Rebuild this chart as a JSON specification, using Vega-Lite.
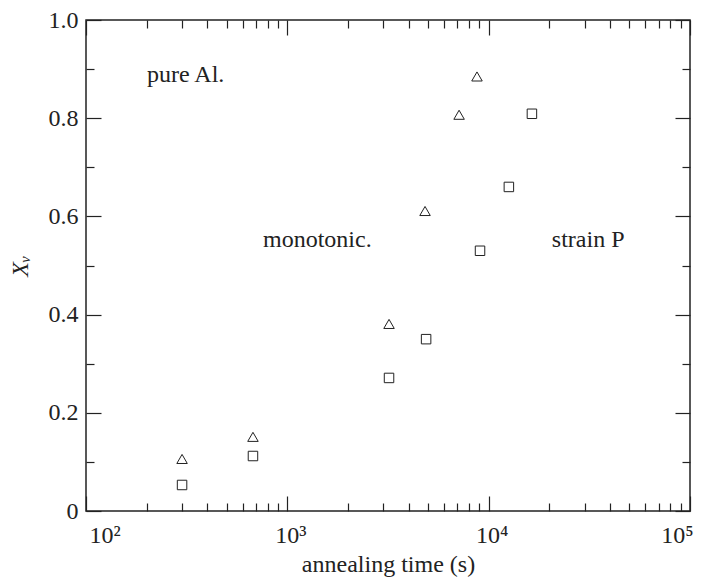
{
  "$schema": "https://vega.github.io/schema/vega-lite/v6.json",
  "width": 604,
  "height": 491,
  "autosize": {"type": "none"},
  "padding": {"left": 86, "top": 20, "right": 17, "bottom": 66},
  "background": "white",
  "config": {
    "view": {"stroke": "#222", "strokeWidth": 1.5},
    "font": "Liberation Serif",
    "axis": {
      "grid": false,
      "domain": false,
      "tickColor": "#222",
      "tickWidth": 1.2,
      "labelFont": "Liberation Serif",
      "labelFontSize": 24,
      "labelColor": "#222",
      "titleFont": "Liberation Serif",
      "titleFontSize": 24,
      "titleFontWeight": "normal",
      "titleColor": "#222"
    }
  },
  "datasets": {
    "pts": [
      {"t": 300, "xv": 0.106, "series": "triangle"},
      {"t": 675, "xv": 0.151, "series": "triangle"},
      {"t": 3200, "xv": 0.381, "series": "triangle"},
      {"t": 4830, "xv": 0.611, "series": "triangle"},
      {"t": 7130, "xv": 0.807, "series": "triangle"},
      {"t": 8750, "xv": 0.885, "series": "triangle"},
      {"t": 300, "xv": 0.053, "series": "square"},
      {"t": 675, "xv": 0.112, "series": "square"},
      {"t": 3200, "xv": 0.271, "series": "square"},
      {"t": 4890, "xv": 0.350, "series": "square"},
      {"t": 9060, "xv": 0.530, "series": "square"},
      {"t": 12600, "xv": 0.660, "series": "square"},
      {"t": 16400, "xv": 0.809, "series": "square"}
    ],
    "notes": [
      {"t": 201, "xv": 0.888, "label": "pure Al.", "grp": "a"},
      {"t": 757, "xv": 0.552, "label": "monotonic.", "grp": "a"},
      {"t": 20600, "xv": 0.552, "label": "strain P", "grp": "b"}
    ]
  },
  "resolve": {"axis": {"x": "independent", "y": "independent"}},
  "layer": [
    {
      "data": {"name": "pts"},
      "transform": [{"filter": "datum.series === 'triangle'"}],
      "mark": {"type": "point", "shape": "triangle-up", "filled": false, "stroke": "#222", "strokeWidth": 1, "size": 110, "opacity": 1},
      "encoding": {
        "x": {
          "field": "t", "type": "quantitative",
          "scale": {"type": "log", "domain": [100, 100000], "nice": false},
          "axis": {
            "orient": "bottom", "values": [100, 1000, 10000, 100000],
            "tickSize": -15, "labelPadding": 27, "labelOffset": 3,
            "labelExpr": "'10' + (datum.value < 500 ? '²' : datum.value < 5000 ? '³' : datum.value < 50000 ? '⁴' : '⁵')",
            "title": "annealing time (s)", "titlePadding": 5
          }
        },
        "y": {
          "field": "xv", "type": "quantitative",
          "scale": {"domain": [0, 1], "nice": false},
          "axis": {
            "orient": "left", "values": [0, 0.2, 0.4, 0.6, 0.8, 1.0],
            "tickSize": -15, "labelPadding": 23,
            "labelExpr": "datum.value === 0 ? '0' : format(datum.value, '.1f')",
            "title": "Xᵥ", "titleFontStyle": "italic", "titlePadding": 16
          }
        }
      }
    },
    {
      "data": {"name": "pts"},
      "transform": [{"filter": "datum.series === 'square'"}],
      "mark": {"type": "point", "shape": "square", "filled": false, "stroke": "#222", "strokeWidth": 1, "size": 90, "opacity": 1},
      "encoding": {
        "x": {
          "field": "t", "type": "quantitative",
          "scale": {"type": "log", "domain": [100, 100000], "nice": false},
          "axis": {
            "orient": "bottom",
            "values": [200, 300, 400, 500, 600, 700, 800, 900, 2000, 3000, 4000, 5000, 6000, 7000, 8000, 9000, 20000, 30000, 40000, 50000, 60000, 70000, 80000, 90000],
            "tickSize": -8, "labels": false, "title": null
          }
        },
        "y": {
          "field": "xv", "type": "quantitative",
          "scale": {"domain": [0, 1], "nice": false},
          "axis": {"orient": "left", "values": [0.1, 0.3, 0.5, 0.7, 0.9], "tickSize": -8, "labels": false, "title": null}
        }
      }
    },
    {
      "data": {"name": "notes"},
      "transform": [{"filter": "datum.grp === 'a'"}],
      "mark": {"type": "text", "align": "left", "baseline": "middle", "font": "Liberation Serif", "fontSize": 24, "color": "#222"},
      "encoding": {
        "text": {"field": "label"},
        "x": {
          "field": "t", "type": "quantitative",
          "scale": {"type": "log", "domain": [100, 100000], "nice": false},
          "axis": {"orient": "top", "values": [100, 1000, 10000, 100000], "tickSize": -15, "labels": false, "title": null}
        },
        "y": {
          "field": "xv", "type": "quantitative",
          "scale": {"domain": [0, 1], "nice": false},
          "axis": {"orient": "right", "values": [0, 0.2, 0.4, 0.6, 0.8, 1.0], "tickSize": -15, "labels": false, "title": null}
        }
      }
    },
    {
      "data": {"name": "notes"},
      "transform": [{"filter": "datum.grp === 'b'"}],
      "mark": {"type": "text", "align": "left", "baseline": "middle", "font": "Liberation Serif", "fontSize": 24, "color": "#222"},
      "encoding": {
        "text": {"field": "label"},
        "x": {
          "field": "t", "type": "quantitative",
          "scale": {"type": "log", "domain": [100, 100000], "nice": false},
          "axis": {
            "orient": "top",
            "values": [200, 300, 400, 500, 600, 700, 800, 900, 2000, 3000, 4000, 5000, 6000, 7000, 8000, 9000, 20000, 30000, 40000, 50000, 60000, 70000, 80000, 90000],
            "tickSize": -8, "labels": false, "title": null
          }
        },
        "y": {
          "field": "xv", "type": "quantitative",
          "scale": {"domain": [0, 1], "nice": false},
          "axis": {"orient": "right", "values": [0.1, 0.3, 0.5, 0.7, 0.9], "tickSize": -8, "labels": false, "title": null}
        }
      }
    }
  ]
}
